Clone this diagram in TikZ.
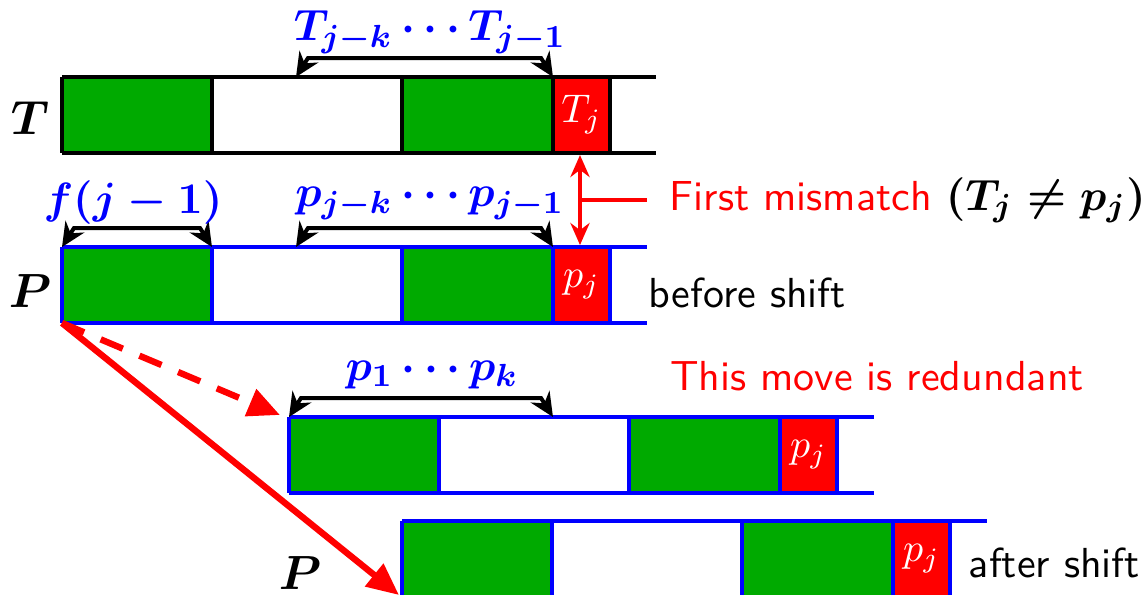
\documentclass[tikz,border=0pt]{standalone}
\usetikzlibrary{arrows.meta,calc}
\definecolor{cgreen}{RGB}{0,170,0}
\definecolor{cblue}{RGB}{0,0,255}
\definecolor{cred}{RGB}{255,0,0}
\tikzset{
  rowline/.style={line width=1pt},
  brk/.style={line width=1pt,black,{Stealth[length=6pt,width=5.5pt]}-{Stealth[length=6pt,width=5.5pt]}},
  lab/.style={text=cblue,font=\fontsize{11}{13}\selectfont\boldmath},
  side/.style={font=\fontsize{12}{14}\selectfont\boldmath},
  celltext/.style={text=white,font=\fontsize{10}{12}\selectfont},
  txt/.style={font=\fontsize{10.5}{13}\selectfont\sffamily},
  redarr/.style={cred,line width=1.6pt,-{Triangle[length=8pt,width=7pt]}},
  mism/.style={cred,line width=1pt,{Stealth[length=5.5pt,width=4.8pt]}-{Stealth[length=5.5pt,width=4.8pt]}}
}
% #1 name prefix, #2 shift, #3 line colour, #4 cell text, #5 line end
\newcommand{\seqrow}[5]{%
  \begin{scope}[shift={#2}]
    \fill[cgreen] (0,0) rectangle (150,76);
    \fill[cgreen] (340,0) rectangle (491,76);
    \fill[cred] (491,0) rectangle (548,76);
    \draw[rowline,#3] (0,0) -- (#5,0) (0,76) -- (#5,76)
      (0,0) -- (0,76) (150,0) -- (150,76) (340,0) -- (340,76)
      (491,0) -- (491,76) (548,0) -- (548,76);
    \coordinate (#1a) at (0,0);
    \coordinate (#1b) at (150,0);
    \coordinate (#1m) at (234,0);
    \coordinate (#1d) at (491,0);
    \coordinate (#1bl) at (0,76);
    \coordinate (#1rb) at (518,76);
    \coordinate (#1rt) at (518,0);
    \node[celltext] (#1j) at (519.5,38) {#4};
  \end{scope}}
\begin{document}
\begin{tikzpicture}[x=0.25pt,y=-0.25pt]
\useasboundingbox (0,0) rectangle (1147,594);
\begin{scope}
\clip (0,0) rectangle (1147,594);
\seqrow{t}{(62,77)}{black}{$T_j$}{594}
\seqrow{p}{(62,247)}{cblue}{$p_j$}{585}
\seqrow{q}{(289,417)}{cblue}{$p_j$}{585}
\seqrow{s}{(402,521)}{cblue}{$p_j$}{585}
\end{scope}
% side labels
\node[side] (lT) at (30,118) {$T$};
\node[side] (lP) at (30,291) {$P$};
\node[side] (lP2) at (300,573) {$P$};
% brackets
\draw[brk] (tm) -- ($(tm)+(12,-19)$) -- ($(td)+(-12,-19)$) -- (td);
\node[lab] (ltop) at (430,32) {$T_{j-k}\cdots T_{j-1}$};
\draw[brk] (pa) -- ($(pa)+(12,-19)$) -- ($(pb)+(-12,-19)$) -- (pb);
\node[lab] (lf) at (133,203) {$f(j-1)$};
\draw[brk] (pm) -- ($(pm)+(12,-19)$) -- ($(pd)+(-12,-19)$) -- (pd);
\node[lab] (lp) at (430,203) {$p_{j-k}\cdots p_{j-1}$};
\coordinate (qk) at ($(qa)+(264,0)$);
\draw[brk] (qa) -- ($(qa)+(12,-19)$) -- ($(qk)+(-12,-19)$) -- (qk);
\node[lab] (lp1) at (432,374) {$p_1\cdots p_k$};
% mismatch
\coordinate (mt) at ($(trb)+(0,2)$);
\coordinate (mb) at ($(prt)+(0,-2)$);
\draw[mism] (mt) -- (mb);
\coordinate (mm) at ($(mt)!0.5!(mb)$);
\coordinate (me) at ($(mm)+(67,0)$);
\draw[cred,line width=1pt] (mm) -- (me);
\node[txt,anchor=west,inner sep=0pt] (fm) at ($(me)+(22,0)$) {\textcolor{cred}{First mismatch} {\fontsize{11}{13}\selectfont\boldmath$(T_j\neq p_j)$}};
\node[txt,anchor=west,inner sep=0pt] (bs) at (648,293) {before shift};
\node[txt,text=cred] (red) at (877,376) {This move is redundant};
\node[txt,anchor=west,inner sep=0pt] (as) at (968,563) {after shift};
% moves
\draw[redarr,dash pattern=on 6pt off 4.5pt] (pbl) -- ($(qa)+(-9,-2)$);
\draw[redarr] (pbl) -- ($(sa)+(-3,74)$);
\end{tikzpicture}
\end{document}
